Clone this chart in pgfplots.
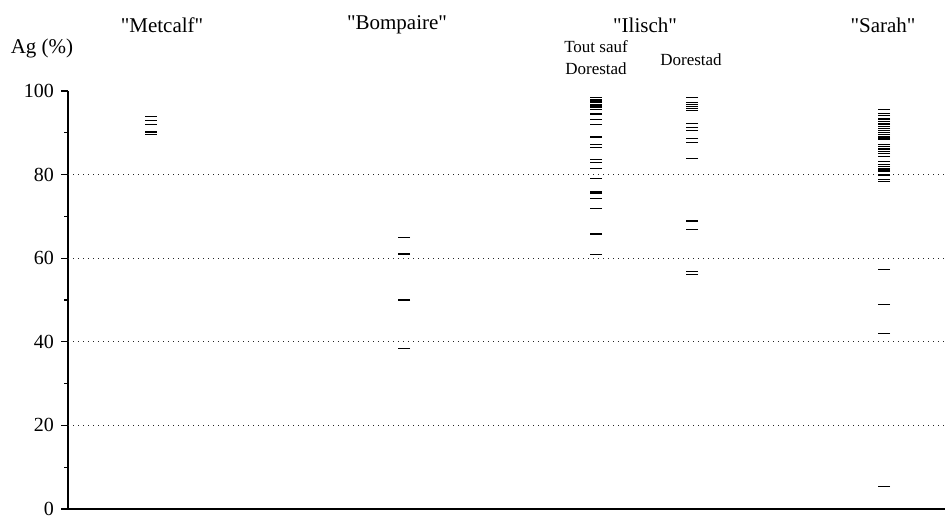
\documentclass[border=0pt]{standalone}
\usepackage{pgfplots}
\pgfplotsset{compat=1.18}
\usepackage{fontspec}
\setmainfont{Liberation Serif}[Ligatures=TeXOff]
\begin{document}
\begin{tikzpicture}
\begin{axis}[
  at={(0pt,0pt)}, anchor=origin,
  x=0.5pt, y=2.09pt,
  xmin=0, xmax=877, ymin=0, ymax=100,
  axis x line=bottom, axis y line=left,
  axis line style={-, line width=0.75pt},
  xtick=\empty,
  ytick={0,20,...,100},
  minor ytick={10,30,50,70,90},
  tick align=outside,
  major tick length=3.5pt, minor tick length=2pt,
  tick style={line width=0.6pt, black},
  extra y ticks={20,40,60,80},
  extra y tick labels={},
  extra y tick style={grid=major, major tick length=0pt},
  major grid style={dash pattern=on 0.7pt off 1.8pt, line width=0.6pt, black!85},
  /pgf/number format/assume math mode=true,
  tick label style={font=\fontsize{10}{12}\selectfont},
  clip=false,
]
% Metcalf
\addplot[only marks, mark=-, mark size=3pt, mark options={line width=0.55pt}] coordinates {
 (82.5,94) (82.5,93) (82.5,92) (82.5,90.2) (82.5,89.7)};
% Bompaire
\addplot[only marks, mark=-, mark size=3pt, mark options={line width=0.55pt}] coordinates {
 (336,65) (336,61) (336,50) (336,38.3)};
% Ilisch tout sauf Dorestad
\addplot[only marks, mark=-, mark size=3pt, mark options={line width=0.55pt}] coordinates {
 (528,98.4) (528,98) (528,97.6) (528,97.2) (528,96.8) (528,96.4) (528,96) (528,95.6)
 (528,94.5) (528,93.2) (528,92) (528,89) (528,87.1) (528,86.4) (528,83.7) (528,83)
 (528,81.4) (528,79) (528,76) (528,75.6) (528,74.2) (528,71.9) (528,65.8) (528,60.9)};
% Ilisch Dorestad
\addplot[only marks, mark=-, mark size=3pt, mark options={line width=0.55pt}] coordinates {
 (624,98.5) (624,97.3) (624,96.8) (624,96.3) (624,95.8) (624,95.3) (624,92.3) (624,91.2)
 (624,90.6) (624,88.7) (624,87.6) (624,83.8) (624,68.9) (624,66.9) (624,56.8) (624,56.1)};
% Sarah
\addplot[only marks, mark=-, mark size=3pt, mark options={line width=0.55pt}] coordinates {
 (816,95.6) (816,94.7) (816,94.1) (816,93.5) (816,93.1) (816,92.7) (816,92.3) (816,91.9)
 (816,91.5) (816,91.0) (816,90.6) (816,90.1) (816,89.6) (816,89.0) (816,88.6) (816,88.3)
 (816,87.2) (816,86.7) (816,86.3) (816,85.9) (816,85.5) (816,85.0) (816,84.4) (816,83.1)
 (816,82.5) (816,81.9) (816,81.5) (816,81.1) (816,80.7) (816,79.9) (816,78.9) (816,78.4)
 (816,57.2) (816,49.0) (816,41.9) (816,5.3)};
\end{axis}
\begin{scope}[every node/.style={font=\fontsize{10.5}{12.5}\selectfont, inner sep=0pt}]
\node at (-13pt,230.5pt) {Ag (\%)};
\node at (47pt,242pt) {"Metcalf"};
\node at (164.5pt,242pt) {"Bompaire"};
\node at (288.5pt,242pt) {"Ilisch"};
\node at (407.5pt,242pt) {"Sarah"};
\end{scope}
\node[font=\fontsize{8.5}{11}\selectfont, align=center, inner sep=0pt] at (264pt,225.5pt) {Tout sauf\\Dorestad};
\node[font=\fontsize{8.5}{11}\selectfont, inner sep=0pt] at (311.5pt,224.5pt) {Dorestad};
\pgfresetboundingbox
\useasboundingbox (-34pt,-3pt) rectangle (438.5pt,254.5pt);
\end{tikzpicture}
\end{document}
